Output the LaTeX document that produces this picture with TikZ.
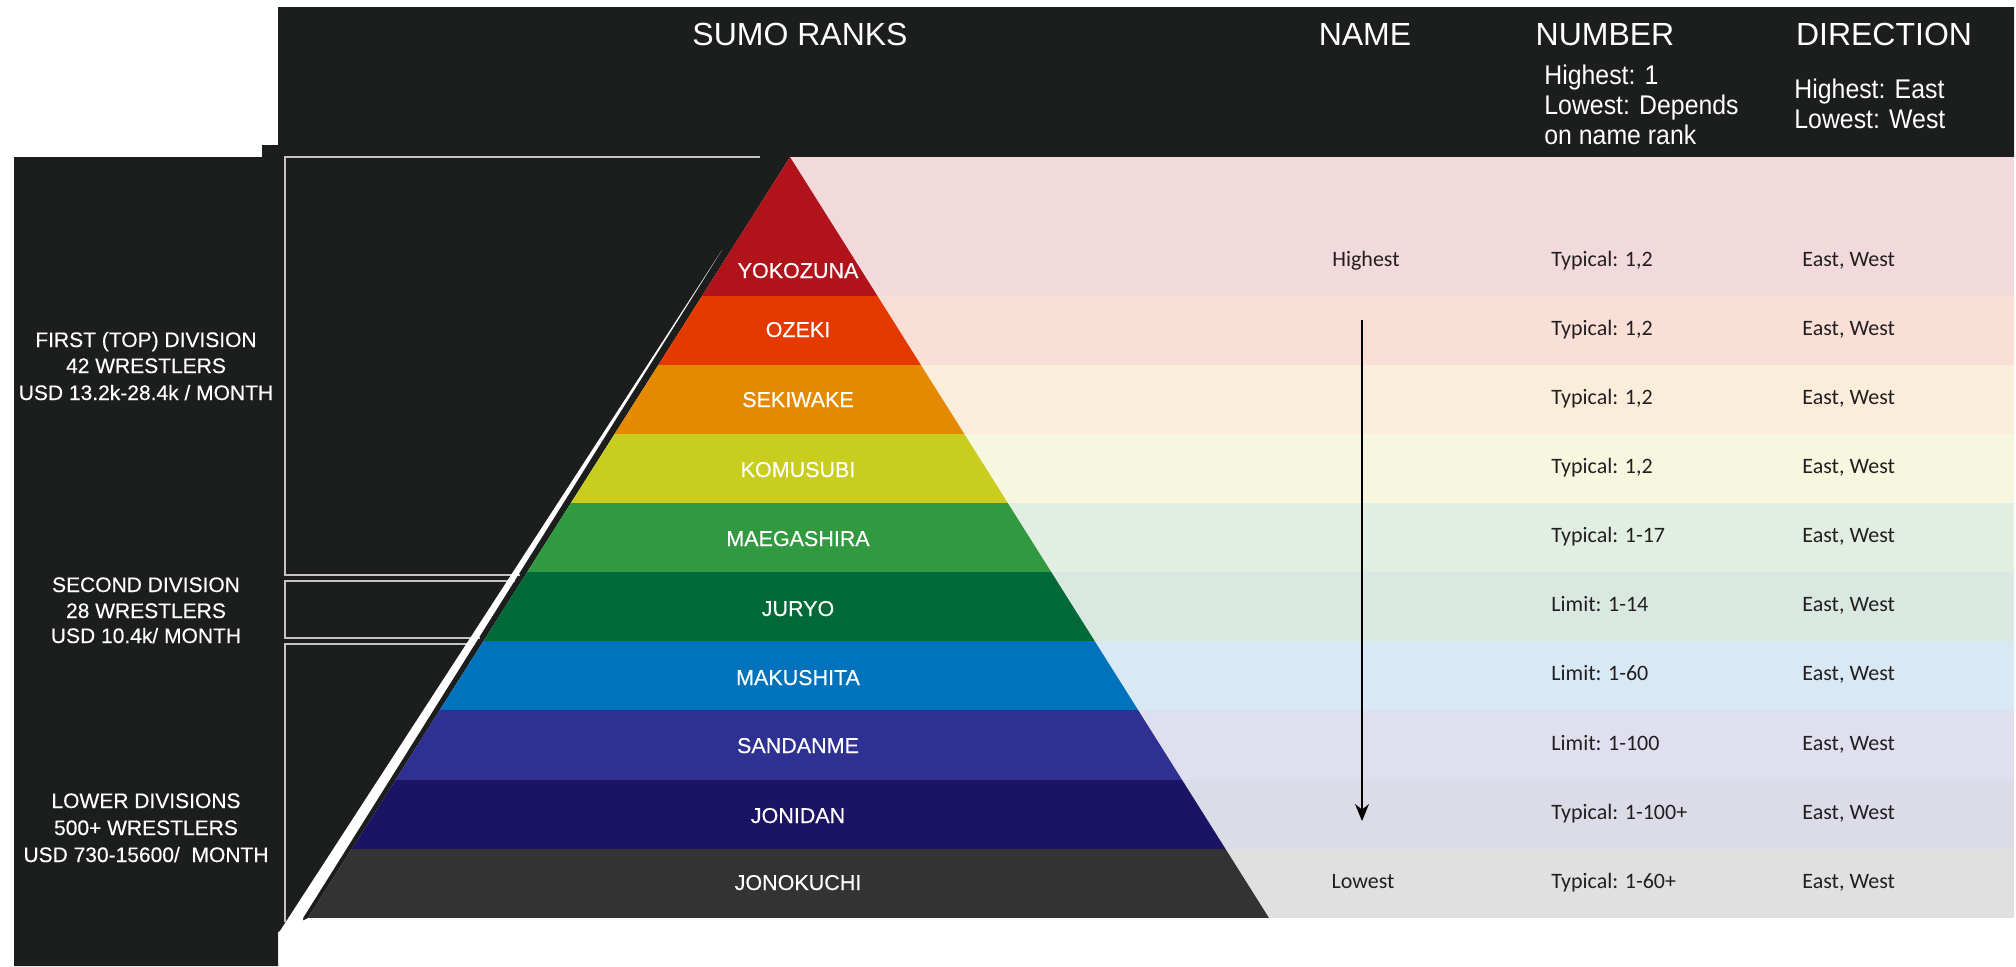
\documentclass[tikz,border=0pt]{standalone}
\usepackage{fontspec}
\setmainfont{Liberation Sans}
\newfontfamily\tabfont{Carlito}
\newfontfamily\subfont[FakeStretch=0.92]{Liberation Sans}
\newfontfamily\lblfont[FakeBold=0.35]{Liberation Sans}
\usetikzlibrary{arrows.meta}
\definecolor{dark}{HTML}{1C1D1D}
\definecolor{brk}{HTML}{C4C4C4}
\definecolor{txt}{HTML}{231F20}
\definecolor{Yo}{HTML}{B1131A}
\definecolor{Oz}{HTML}{E43A00}
\definecolor{Se}{HTML}{E58A00}
\definecolor{Ko}{HTML}{C8CD1F}
\definecolor{Ma}{HTML}{319A41}
\definecolor{Ju}{HTML}{016A38}
\definecolor{Mk}{HTML}{0172BC}
\definecolor{Sa}{HTML}{2E3191}
\definecolor{Jd}{HTML}{1B1464}
\definecolor{Jk}{HTML}{333333}
\definecolor{lYo}{HTML}{F2D9DC}
\definecolor{lOz}{HTML}{FADFD7}
\definecolor{lSe}{HTML}{FAEEDB}
\definecolor{lKo}{HTML}{F7F7DF}
\definecolor{lMa}{HTML}{E0EFE2}
\definecolor{lJu}{HTML}{D9E8E0}
\definecolor{lMk}{HTML}{D8E8F4}
\definecolor{lSa}{HTML}{E0DFEF}
\definecolor{lJd}{HTML}{DCDCE8}
\definecolor{lJk}{HTML}{E0E0E0}
\begin{document}
\begin{tikzpicture}[x=0.5pt,y=-0.5pt,
  hdr/.style={text=white,font=\fontsize{16pt}{18pt}\selectfont,anchor=base,inner sep=0},
  subhdr/.style={text=white,font=\subfont\fontsize{13.5pt}{15pt}\selectfont,anchor=base west,inner sep=0},
  side/.style={text=white,font=\lblfont\fontsize{10.5pt}{12pt}\selectfont,anchor=base,inner sep=0},
  rank/.style={text=white,font=\lblfont\fontsize{10.75pt}{12pt}\selectfont,anchor=base,inner sep=0},
  cell/.style={text=txt,font=\tabfont\fontsize{11pt}{13pt}\selectfont,anchor=base west,inner sep=0},
  cellc/.style={cell,anchor=base},
  bracket/.style={draw=brk,line width=0.8pt},
  arr/.style={draw=black,line width=0.75pt,-{Stealth[length=8.5pt,width=7pt]}}]
\useasboundingbox (0,0) rectangle (2016,966);
\fill[white] (0,0) rectangle (2016,966);
% dark backdrop
\fill[dark] (14,157) -- (262,157) -- (262,145) -- (278,145) -- (278,7) -- (2014,7)
  -- (2014,157) -- (790,157) -- (308,918) -- (278,932) -- (278,966) -- (14,966) -- cycle;
% light table bands
\fill[lYo] (790,157) rectangle (2014,227);
\foreach \t/\b/\lc in {227/296/lYo,296/365/lOz,365/434/lSe,434/503/lKo,503/572/lMa,
  572/641/lJu,641/710/lMk,710/780/lSa,780/849/lJd,849/918/lJk}{
  \fill[\lc] (790,\t) rectangle (2014,\b);
}
% pyramid
\coordinate (apex) at (790,157);
\coordinate (bl) at (308,918);
\coordinate (br) at (1269,918);
\begin{scope}
\clip (apex) -- (bl) -- (br) -- cycle;
\foreach \t/\b/\c in {150/296/Yo,296/365/Oz,365/434/Se,434/503/Ko,503/572/Ma,
  572/641/Ju,641/710/Mk,710/780/Sa,780/849/Jd,849/918/Jk}{
  \fill[\c] (300,\t) rectangle (1280,\b);
}
\end{scope}
% brackets
\draw[bracket] (760,157) -- (285,157) -- (285,575) -- (520,575);
\draw[bracket] (515,581) -- (285,581) -- (285,638) -- (480,638);
\draw[bracket] (475,644) -- (285,644) -- (285,922);
% white stripe
\fill[white] (722,250) -- (303,918) -- (303,934) -- (278,934) -- cycle;
% headers
\node[hdr] (hSumo) at (800,45) {SUMO RANKS};
\node[hdr] (hName) at (1365,45) {NAME};
\node[hdr] (hNum) at (1605,45) {NUMBER};
\node[hdr] (hDir) at (1884,45) {DIRECTION};
\node[subhdr] (sNum1) at (1544,84) {Highest: 1};
\node[subhdr] (sNum2) at (1544,114.5) {Lowest: Depends};
\node[subhdr] (sNum3) at (1544,144) {on name rank};
\node[subhdr] (sDir1) at (1794,98) {Highest: East};
\node[subhdr] (sDir2) at (1794,128) {Lowest: West};
% side panel
\node[side] (d1a) at (146,347) {FIRST (TOP) DIVISION};
\node[side] (d1b) at (146,373) {42 WRESTLERS};
\node[side] (d1c) at (146,400) {USD 13.2k-28.4k / MONTH};
\node[side] (d2a) at (146,592) {SECOND DIVISION};
\node[side] (d2b) at (146,618) {28 WRESTLERS};
\node[side] (d2c) at (146,643) {USD 10.4k/ MONTH};
\node[side] (d3a) at (146,808) {LOWER DIVISIONS};
\node[side] (d3b) at (146,835) {500+ WRESTLERS};
\node[side] (d3c) at (146,862) {USD 730-15600/~~MONTH};
% rank labels and table text
\foreach \i/\nm/\rb/\mid/\num in {1/YOKOZUNA/278/261.5/{Typical: 1,2},
  2/OZEKI/337/330.5/{Typical: 1,2},
  3/SEKIWAKE/407/399.5/{Typical: 1,2},
  4/KOMUSUBI/477/468.5/{Typical: 1,2},
  5/MAEGASHIRA/546/537.5/{Typical: 1-17},
  6/JURYO/616/606.5/{Limit: 1-14},
  7/MAKUSHITA/685/675.5/{Limit: 1-60},
  8/SANDANME/753/745/{Limit: 1-100},
  9/JONIDAN/823/814.5/{Typical: 1-100+},
  10/JONOKUCHI/890/883.5/{Typical: 1-60+}}{
  \node[rank] (rk\i) at (798,\rb) {\nm};
  \node[cell] (num\i) at (1551,\mid+5) {\num};
  \node[cell] (dir\i) at (1802,\mid+5) {East, West};
}
\node[cellc] (nHigh) at (1366,266.5) {Highest};
\node[cellc] (nLow) at (1363,888.5) {Lowest};
% arrow
\coordinate (arrTop) at (1362,320);
\coordinate (arrBot) at (1362,821);
\draw[arr] (arrTop) -- (arrBot);
\end{tikzpicture}
\end{document}
